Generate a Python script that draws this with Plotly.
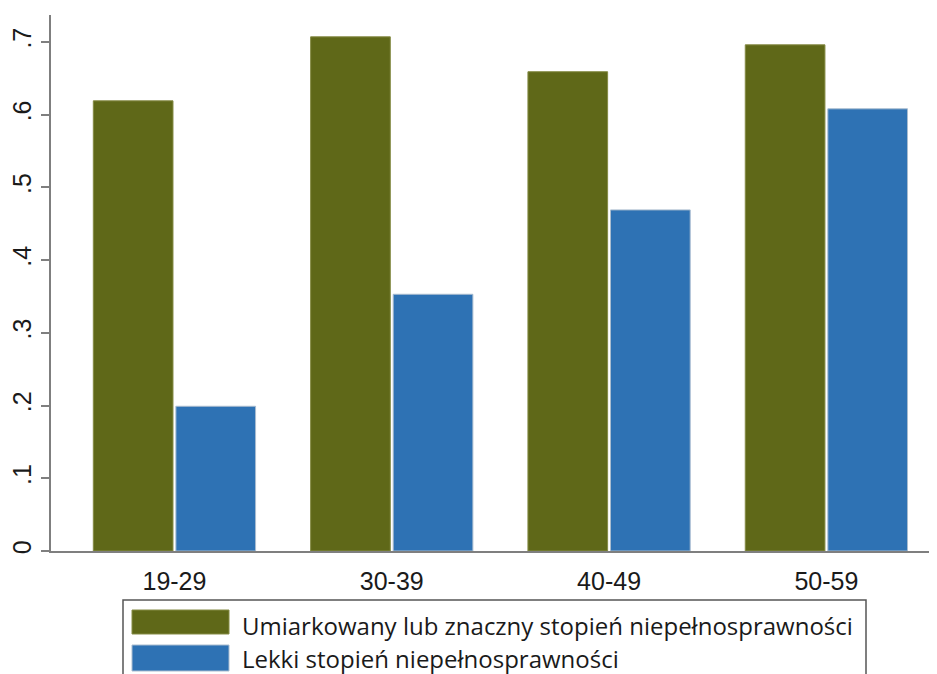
import plotly.graph_objects as go

categories = ["19-29", "30-39", "40-49", "50-59"]
series_names = ["Umiarkowany lub znaczny stopień niepełnosprawności",
                "Lekki stopień niepełnosprawności"]
moderate = [0.619, 0.707, 0.659, 0.696]
light = [0.199, 0.353, 0.469, 0.608]
ytick_vals = [0, 0.1, 0.2, 0.3, 0.4, 0.5, 0.6, 0.7]
ytick_text = ["0", ".1", ".2", ".3", ".4", ".5", ".6", ".7"]

GREEN = "#5f6818"
BLUE = "#2e72b4"

OFF = 8  # page body margin
W, H = 937, 674
# desired plot area in screenshot pixels: x 51..937, y 15..551
L, T = 51 - OFF, 15 - OFF
B = H - (551 - OFF)
R = OFF
pw, ph = W - L - R, H - T - B

def px(x):
    return (x - OFF - L) / pw

def py(y):
    return (H - B - (y - OFF)) / ph

fig = go.Figure()
fig.add_bar(x=categories, y=moderate, name=series_names[0],
            marker=dict(color=GREEN, line=dict(color="#858b45", width=1)))
fig.add_bar(x=categories, y=light, name=series_names[1],
            marker=dict(color=BLUE, line=dict(color="#a9bccf", width=1)))

LEG_FONT = dict(family="Open Sans, Noto Sans, sans-serif", size=24, color="#1a1a1a")
shapes = [
    dict(type="rect", xref="paper", yref="paper", x0=px(123), x1=px(866),
         y0=py(600), y1=py(700), line=dict(color="#555555", width=1.5),
         fillcolor="white", layer="above"),
    dict(type="rect", xref="paper", yref="paper", x0=px(132), x1=px(229),
         y0=py(610), y1=py(634), line=dict(color="#858b45", width=1),
         fillcolor=GREEN, layer="above"),
    dict(type="rect", xref="paper", yref="paper", x0=px(132), x1=px(229),
         y0=py(645), y1=py(671), line=dict(color="#a9bccf", width=1),
         fillcolor=BLUE, layer="above"),
]
annotations = [
    dict(xref="paper", yref="paper", x=px(240), y=py(625), text=series_names[0],
         showarrow=False, xanchor="left", yanchor="middle", font=LEG_FONT),
    dict(xref="paper", yref="paper", x=px(240), y=py(658), text=series_names[1],
         showarrow=False, xanchor="left", yanchor="middle", font=LEG_FONT),
]

fig.update_layout(
    width=W, height=H,
    margin=dict(l=L, r=R, t=T, b=B, pad=0, autoexpand=False),
    paper_bgcolor="white", plot_bgcolor="white",
    barmode="group", bargap=0.24, bargroupgap=0.035,
    showlegend=False,
    shapes=shapes, annotations=annotations,
    font=dict(family="Liberation Sans, Arial, sans-serif", size=22, color="#1a1a1a"),
    xaxis=dict(range=[-0.568, 3.509], showline=True, linecolor="#7f7f7f", linewidth=2,
               ticks="", showgrid=False, zeroline=False, automargin=False,
               tickfont=dict(size=25), ticklabelstandoff=7),
    yaxis=dict(range=[0, 0.737], tickvals=ytick_vals, ticktext=ytick_text,
               showline=True, linecolor="#7f7f7f", linewidth=2,
               ticks="outside", ticklen=8, tickwidth=1.5, tickcolor="#7f7f7f",
               tickangle=-90, showgrid=False, zeroline=False, automargin=False,
               tickfont=dict(size=25)),
)

fig.write_html("out.html")
